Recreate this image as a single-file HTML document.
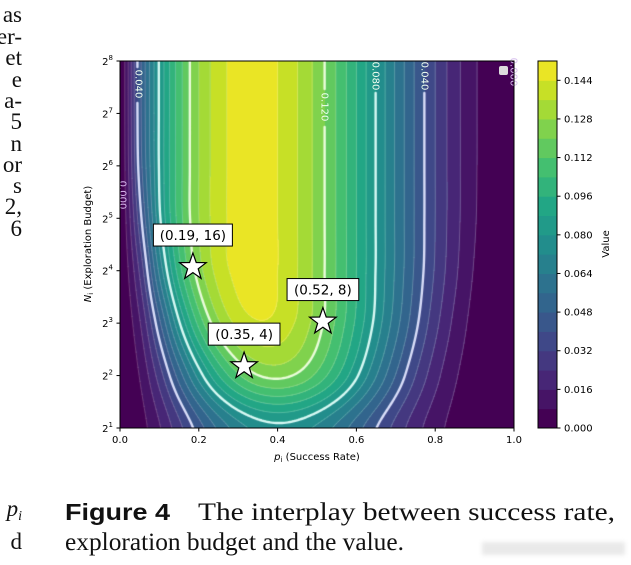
<!DOCTYPE html>
<html><head><meta charset="utf-8"><style>
html,body{margin:0;padding:0;background:#fff;}
#wrap{position:relative;width:631px;height:565px;overflow:hidden;}
#field{position:absolute;left:120px;top:61px;}
svg{position:absolute;left:0;top:0;}
.tk{font-family:"DejaVu Sans","Liberation Sans",sans-serif;font-size:10px;fill:#000;}
.serif{font-family:"Liberation Serif",serif;font-size:25px;fill:#111;}
</style></head><body>
<div id="wrap">
<canvas id="field" width="394" height="367"></canvas>
<svg id="ov" width="631" height="565">
  <g class="serif" style="font-size:23px" text-anchor="end">
    <text x="22" y="22">as</text><text x="22" y="44">er-</text><text x="22" y="65">et</text>
    <text x="22" y="87">e</text><text x="22" y="108">a-</text><text x="22" y="129">5</text>
    <text x="22" y="151">n</text><text x="22" y="172">or</text><text x="22" y="193">s</text>
    <text x="22" y="214">2,</text><text x="22" y="236">6</text>
    <text x="22" y="516" font-style="italic">p<tspan font-size="14" dy="4">i</tspan></text>
    <text x="22" y="549">d</text>
  </g>
  <g>
    <text x="65" y="520" textLength="105" lengthAdjust="spacingAndGlyphs" style="font-family:'Liberation Sans',sans-serif;font-weight:bold;font-size:23px;fill:#111">Figure 4</text>
    <text class="serif" x="198" y="520" textLength="417" lengthAdjust="spacingAndGlyphs">The interplay between success rate,</text>
    <text class="serif" x="65" y="550" textLength="339" lengthAdjust="spacingAndGlyphs">exploration budget and the value.</text>
  </g>
  <rect x="482" y="542" width="143" height="13" fill="#e4e4e4" opacity="0.8" style="filter:blur(2px)"/>
  <g id="axes"></g>
  <g id="cbar"></g>
</svg>
</div>
<script>
// ---- data ----
const pVals = [0,0.05,0.1,0.15,0.2,0.25,0.3,0.35,0.4,0.45,0.5,0.55,0.6,0.65,0.7,0.75,0.8,0.85,0.9,0.95,1];
const log2N = [1,2,3,4,5,6,7,8];
const vN2  =[0,.0044,.0152,.0294,.0442,.0577,.0682,.0749,.0774,.0757,.0703,.0620,.0516,.0403,.0292,.0192,.0111,.0052,.0017,.0002,0];
const vN4  =[0,.0084,.0279,.0518,.0754,.0957,.1108,.1197,.1221,.1186,.1099,.0971,.0814,.0644,.0475,.0319,.0189,.0091,.0031,.0004,0];
const vN8  =[0,.0152,.0461,.0789,.1065,.1265,.1385,.1432,.1415,.1347,.1240,.1103,.0943,.0771,.0594,.0422,.0266,.0139,.0051,.0008,0];
const vN16 =[0,.0253,.0660,.1003,.1244,.1392,.1465,.1478,.1440,.1361,.1250,.1114,.0960,.0795,.0628,.0464,.0311,.0177,.0073,.0013,0];
const vN32 =[0,.0364,.0782,.1078,.1279,.1406,.1470,.1479,.1440,.1361,.1250,.1114,.0960,.0796,.0630,.0469,.0320,.0190,.0087,.0019,0];
const vN64 =[0,.0434,.0809,.1084,.1280,.1406,.1470,.1479,.1440,.1361,.1250,.1114,.0960,.0796,.0630,.0469,.0320,.0191,.0090,.0023,0];
const vN128=[0,.0450,.0810,.1084,.1280,.1406,.1470,.1479,.1440,.1361,.1250,.1114,.0960,.0796,.0630,.0469,.0320,.0191,.0090,.0024,0];
const vN256=[0,.0451,.0810,.1084,.1280,.1406,.1470,.1479,.1440,.1361,.1250,.1114,.0960,.0796,.0630,.0469,.0320,.0191,.0090,.0024,0];
const valueRows = [vN2,vN4,vN8,vN16,vN32,vN64,vN128,vN256];
const levelStep = 0.008;
const levelCount = 19;
const mainLevels = [0.04,0.08,0.12];
const xTicks = [0,0.2,0.4,0.6,0.8,1.0];
const xTickLabels = ["0.0","0.2","0.4","0.6","0.8","1.0"];
const yTicks = [1,2,3,4,5,6,7,8];
const cbarTicks = [0,0.016,0.032,0.048,0.064,0.080,0.096,0.112,0.128,0.144];
const cbarTickLabels = ["0.000","0.016","0.032","0.048","0.064","0.080","0.096","0.112","0.128","0.144"];
const starP = [0.185,0.315,0.515];
const starLog2N = [4.07,2.18,3.03];
const starLabels = ["(0.19, 16)","(0.35, 4)","(0.52, 8)"];

// ---- scales ----
const PL=120,PR=514,PT=61,PB=428;
const vmax = levelStep*levelCount;
function xs(p){return PL+p*(PR-PL);}
function ys(l){return PB-(l-1)/7*(PB-PT);}
const VIR=["#440154","#482475","#414487","#355f8d","#2a788e","#21918c","#22a884","#44bf70","#7ad151","#bddf26","#fde725"];
function hex(h){return [1,3,5].map(i=>parseInt(h.substr(i,2),16));}
function viridis(t){t=Math.max(0,Math.min(1,t));const f=t*10,i=Math.min(9,Math.floor(f)),r=f-i;
  const a=hex(VIR[i]),b=hex(VIR[i+1]);return a.map((v,k)=>Math.round(v+(b[k]-v)*r));}
function bandColor(i){return viridis(i/(levelCount-1)*0.97);}
function cr(p0,p1,p2,p3,t){return 0.5*((2*p1)+(-p0+p2)*t+(2*p0-5*p1+4*p2-p3)*t*t+(-p0+3*p1-3*p2+p3)*t*t*t);}
function rowAt(row,p){const n=pVals.length-1;const f=p*n;let i=Math.min(n-1,Math.max(0,Math.floor(f)));const t=f-i;
  const g=k=>row[Math.max(0,Math.min(n,k))];return cr(g(i-1),g(i),g(i+1),g(i+2),t);}
function value(p,l){const n=log2N.length-1;const f=l-1;let i=Math.min(n-1,Math.max(0,Math.floor(f)));const t=f-i;
  const g=k=>rowAt(valueRows[Math.max(0,Math.min(n,k))],p);return Math.max(0,Math.min(vmax-1e-6,cr(g(i-1),g(i),g(i+1),g(i+2),t)));}

// ---- field ----
const cv=document.getElementById('field'),ctx=cv.getContext('2d');
const W=cv.width,H=cv.height;const img=ctx.createImageData(W,H);
const grid=[];
for(let y=0;y<=H;y++){grid.push([]);for(let x=0;x<=W;x++){grid[y].push(value(x/W,8-7*y/H));}}
for(let y=0;y<H;y++)for(let x=0;x<W;x++){const v=grid[y][x];const b=Math.min(levelCount-1,Math.floor(v/levelStep));
  const c=bandColor(b);const o=(y*W+x)*4;img.data[o]=c[0];img.data[o+1]=c[1];img.data[o+2]=c[2];img.data[o+3]=255;}
ctx.putImageData(img,0,0);
const labelBoxes=[[10,5,26,42],[196,28,212,66],[248,0,264,32],[297,0,313,32]];
function inBox(x,y){return labelBoxes.some(b=>x>b[0]&&x<b[2]&&y>b[1]&&y<b[3]);}
function contour(level,style,width){
  ctx.strokeStyle=style;ctx.lineWidth=width;ctx.lineCap='round';ctx.beginPath();
  const S=2;
  for(let y=0;y<H;y+=S)for(let x=0;x<W;x+=S){
    const y2=Math.min(H,y+S),x2=Math.min(W,x+S);
    const a=grid[y][x],b=grid[y][x2],c=grid[y2][x2],d=grid[y2][x];const pts=[];
    function e(v1,v2,x1,y1,xb,yb){if((v1<level)!==(v2<level)){const t=(level-v1)/(v2-v1);pts.push([x1+(xb-x1)*t,y1+(yb-y1)*t]);}}
    e(a,b,x,y,x2,y);e(b,c,x2,y,x2,y2);e(c,d,x2,y2,x,y2);e(d,a,x,y2,x,y);
    for(let k=0;k+1<pts.length;k+=2){const mx=(pts[k][0]+pts[k+1][0])/2,my=(pts[k][1]+pts[k+1][1])/2;
      if(width>1&&inBox(mx,my))continue;ctx.moveTo(pts[k][0],pts[k][1]);ctx.lineTo(pts[k+1][0],pts[k+1][1]);}
  }
  ctx.stroke();
}
for(let i=1;i<levelCount;i++){const L=i*levelStep;if(!mainLevels.some(m=>Math.abs(m-L)<1e-6))contour(L,'rgba(255,255,255,0.22)',0.8);}
const mainCols=['rgba(225,230,255,0.95)','rgba(225,255,250,0.95)','rgba(240,255,225,0.95)'];
mainLevels.forEach((L,i)=>contour(L,mainCols[i],2.4));

// ---- svg overlay ----
const NS="http://www.w3.org/2000/svg";
function mk(tag,attrs,parent,txt){const e=document.createElementNS(NS,tag);for(const k in attrs)e.setAttribute(k,attrs[k]);if(txt!==undefined)e.textContent=txt;parent.appendChild(e);return e;}
const ax=document.getElementById('axes');
const cl=[[138,84,"0.040",'#f0fff0'],[324,107,"0.120",'#f0fff0'],[375,76,"0.080",'#f0fff0'],[424,76,"0.040",'#f0fff0'],[513,72,"0.000",'#d8c0ee'],[122,195,"0.000",'#d8b8f0']];
cl.forEach(c=>{const t=mk('text',{x:c[0],y:c[1],transform:`rotate(90 ${c[0]} ${c[1]})`,'text-anchor':'middle','dominant-baseline':'central',class:'tk',style:'fill:'+c[3]},ax,c[2]);
  
  });
const lm=mk('rect',{x:499,y:66,width:9,height:9,rx:2,fill:'#ddd'},ax);


const fr=mk('rect',{x:PL,y:PT,width:PR-PL,height:PB-PT,fill:'none',stroke:'#000','stroke-width':1},ax);


xTicks.forEach((v,i)=>{const x=xs(v);mk('line',{x1:x,x2:x,y1:PB,y2:PB+3.5,stroke:'#000'},ax);
  const t=mk('text',{x:x,y:PB+15,'text-anchor':'middle',class:'tk'},ax,xTickLabels[i]);
  
  });
yTicks.forEach(v=>{const y=ys(v);mk('line',{x1:PL-3.5,x2:PL,y1:y,y2:y,stroke:'#000'},ax);
  const t=mk('text',{x:PL-7,y:y+4,'text-anchor':'end',class:'tk'},ax);
  
  
  mk('tspan',{},t,'2');mk('tspan',{dy:-5,'font-size':'7'},t,String(v));});
const xl=mk('text',{x:317,y:460,'text-anchor':'middle',class:'tk'},ax);


mk('tspan',{'font-style':'italic'},xl,'p');mk('tspan',{'font-size':'7',dy:2},xl,'i');mk('tspan',{dy:-2},xl,' (Success Rate)');
const yl=mk('text',{x:0,y:0,'text-anchor':'middle',class:'tk',transform:'translate(91,244) rotate(-90)'},ax);


mk('tspan',{'font-style':'italic'},yl,'N');mk('tspan',{'font-size':'7',dy:2},yl,'i');mk('tspan',{dy:-2},yl,' (Exploration Budget)');
function starPath(cx,cy,R,r){let d='';for(let k=0;k<10;k++){const a=-Math.PI/2+k*Math.PI/5,rr=k%2?r:R;d+=(k?'L':'M')+(cx+rr*Math.cos(a)).toFixed(1)+','+(cy+rr*Math.sin(a)).toFixed(1);}return d+'Z';}
starP.forEach((p,i)=>{const cx=xs(p),cy=ys(starLog2N[i]);
  const s=mk('path',{d:starPath(cx,cy,14,5.6),fill:'#fff',stroke:'#000','stroke-width':1.2},ax);
  
  
  const bw=starLabels[i].length*7.3+6;
  const g=mk('g',{},ax);
  
  
  mk('rect',{x:cx-bw/2,y:cy-43,width:bw,height:22,fill:'#fff',stroke:'#000','stroke-width':1},g);
  mk('text',{x:cx,y:cy-27,'text-anchor':'middle',class:'tk',style:'font-size:13.5px'},g,starLabels[i]);});
const cb=document.getElementById('cbar');const CX=538,CW=19,CT=61,CB=428;
function cy(v){return CB-v/vmax*(CB-CT);}
for(let i=0;i<levelCount;i++){const c=bandColor(i);
  const r=mk('rect',{x:CX,y:cy((i+1)*levelStep),width:CW,height:cy(i*levelStep)-cy((i+1)*levelStep)+0.5,fill:`rgb(${c})`},cb);
  
  }
mk('rect',{x:CX,y:CT,width:CW,height:CB-CT,fill:'none',stroke:'#000'},cb);
cbarTicks.forEach((v,i)=>{const y=cy(v);mk('line',{x1:CX+CW,x2:CX+CW+3.5,y1:y,y2:y,stroke:'#000'},cb);
  const t=mk('text',{x:CX+CW+7,y:y+3.5,class:'tk'},cb,cbarTickLabels[i]);
  
  });
const vt=mk('text',{x:0,y:0,'text-anchor':'middle',class:'tk',transform:'translate(609,244) rotate(-90)'},cb,'Value');


</script>
</body></html>
